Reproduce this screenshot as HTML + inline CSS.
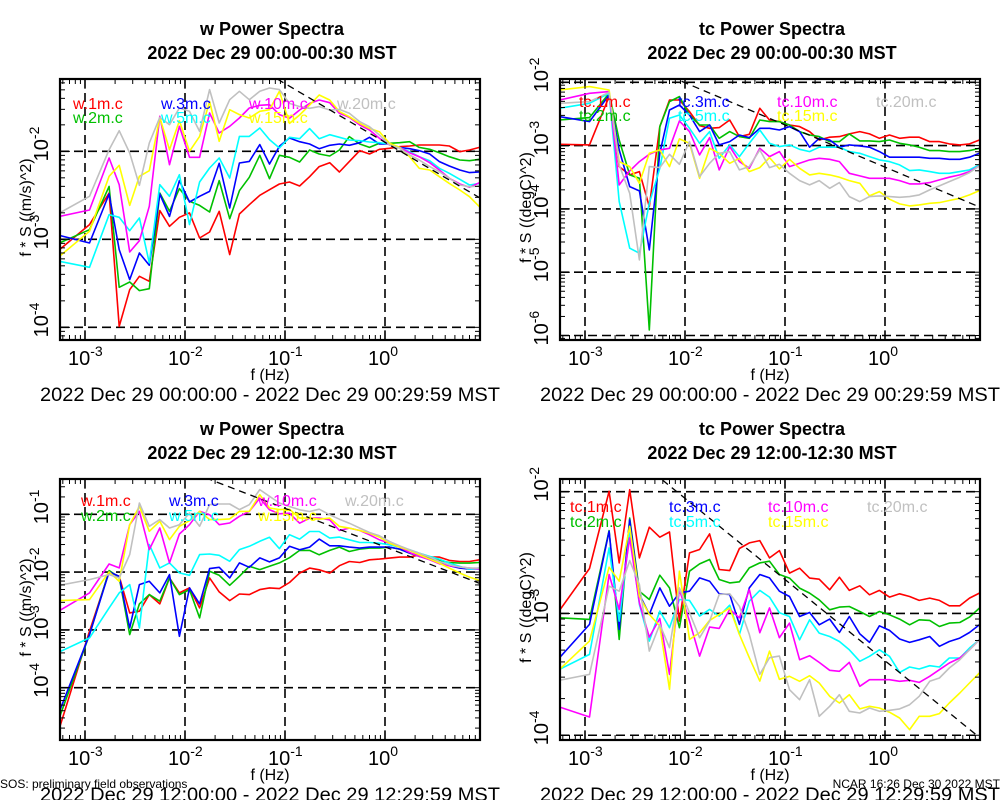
<!DOCTYPE html>
<html><head><meta charset="utf-8"><style>
html,body{margin:0;padding:0;background:#fff;}
svg{display:block;font-family:"Liberation Sans",sans-serif;}
</style></head><body>
<svg id="chart" width="1000" height="800" viewBox="0 0 1000 800" xmlns="http://www.w3.org/2000/svg"></svg>
<script>
// frequencies (Hz)
const freqs = [0.000556,0.00111,0.00174,0.0022,0.0028,0.0035,0.0044,0.0056,0.0070,0.0088,0.0111,0.014,0.0176,0.022,0.028,0.035,0.044,0.056,0.070,0.088,0.111,0.14,0.176,0.22,0.28,0.35,0.44,0.56,0.70,0.88,1.11,1.4,1.76,2.2,2.8,3.5,4.4,5.6,7.0,8.8];
const seriesNames = ["1m","2m","3m","5m","10m","15m","20m"];
const seriesColors = ["#ff0000","#00c000","#0000ff","#00ffff","#ff00ff","#ffff00","#c0c0c0"];
// log10(f*S) values
const w1_1 = [-3.117,-2.833,-2.473,-3.989,-3.572,-3.420,-3.477,-2.674,-2.852,-2.75,-2.70,-2.985,-2.917,-2.682,-3.174,-2.712,-2.606,-2.5,-2.436,-2.371,-2.348,-2.394,-2.288,-2.174,-2.129,-2.235,-2.117,-1.992,-2.03,-1.977,-1.966,-1.947,-1.939,-1.928,-1.928,-1.928,-1.939,-2.004,-1.985,-1.955];
const w1_2 = [-3.042,-2.89,-2.398,-3.545,-3.485,-3.583,-3.561,-2.473,-2.682,-2.424,-2.568,-2.614,-2.689,-2.333,-2.765,-2.447,-2.295,-2.045,-2.311,-2.045,-2.068,-2.121,-1.985,-2.03,-2.053,-1.985,-1.833,-1.917,-1.955,-1.909,-1.909,-1.902,-1.89,-1.955,-1.977,-2.015,-2.061,-2.098,-2.106,-2.091];
const w1_3 = [-2.955,-3.042,-2.485,-3.117,-3.458,-3.155,-3.295,-2.485,-2.739,-2.333,-2.576,-2.511,-2.455,-2.136,-2.644,-2.133,-2.114,-1.924,-2.144,-1.943,-1.848,-1.89,-1.917,-1.97,-1.932,-1.917,-1.932,-1.902,-1.841,-1.917,-1.917,-1.955,-1.97,-1.992,-2.03,-2.117,-2.167,-2.212,-2.242,-2.235];
const w1_5 = [-3.25,-3.318,-2.72,-2.75,-2.902,-2.758,-3.269,-2.379,-2.511,-2.265,-2.833,-2.348,-2.189,-2.076,-2.303,-1.83,-1.83,-1.735,-1.867,-1.962,-1.841,-1.856,-1.742,-1.856,-1.811,-1.841,-1.871,-1.879,-1.894,-1.902,-1.917,-1.955,-2.004,-2.061,-2.106,-2.193,-2.25,-2.318,-2.383,-2.364];
const w1_10 = [-2.739,-2.667,-2.076,-2.379,-3.144,-3.015,-2.625,-1.602,-2.152,-1.716,-2.068,-2.068,-1.564,-1.792,-1.716,-1.621,-1.508,-1.477,-1.47,-1.583,-1.625,-1.53,-1.455,-1.417,-1.447,-1.568,-1.614,-1.701,-1.758,-1.852,-1.928,-1.955,-2.015,-2.061,-2.129,-2.212,-2.307,-2.371,-2.409,-2.356];
const w1_15 = [-3.193,-2.909,-2.284,-2.159,-2.614,-2.284,-2.22,-1.614,-1.981,-1.652,-2.0,-1.83,-1.432,-1.886,-1.527,-1.583,-1.621,-1.545,-1.527,-1.318,-1.682,-1.587,-1.473,-1.36,-1.417,-1.549,-1.606,-1.682,-1.739,-1.777,-1.909,-1.955,-2.061,-2.193,-2.212,-2.288,-2.364,-2.439,-2.515,-2.629];
const w1_20 = [-2.701,-2.511,-1.981,-1.765,-2.019,-2.386,-1.905,-1.614,-1.697,-1.508,-1.545,-1.773,-1.299,-1.678,-1.413,-1.318,-1.413,-1.318,-1.28,-1.299,-1.455,-1.492,-1.511,-1.492,-1.53,-1.523,-1.568,-1.663,-1.72,-1.814,-1.928,-1.966,-2.042,-2.098,-2.174,-2.231,-2.307,-2.383,-2.402,-2.394];

const t1_1 = [-2.979,-2.989,-2.226,-3.332,-3.463,-3.411,-3.963,-2.7,-2.279,-2.279,-2.463,-2.684,-2.726,-2.716,-2.595,-2.858,-2.821,-2.411,-2.595,-2.621,-2.674,-2.7,-2.779,-2.911,-2.868,-2.858,-2.816,-2.779,-2.816,-2.884,-2.832,-2.884,-2.868,-2.868,-2.937,-2.937,-2.974,-2.989,-2.974,-2.911];
const t1_2 = [-2.595,-2.558,-2.174,-2.911,-3.463,-3.516,-5.911,-2.7,-2.305,-2.226,-2.516,-2.674,-2.674,-2.884,-2.779,-2.858,-2.884,-2.595,-2.621,-2.621,-2.674,-2.779,-2.832,-2.858,-2.937,-2.937,-2.816,-2.926,-2.926,-2.937,-2.911,-2.963,-2.989,-3.026,-3.079,-3.079,-3.095,-3.095,-3.079,-3.042];
const t1_3 = [-2.542,-2.621,-2.2,-3.068,-3.647,-3.716,-4.647,-3.121,-2.437,-2.358,-2.516,-2.779,-2.674,-2.989,-2.937,-2.832,-2.874,-2.726,-2.726,-2.753,-2.7,-2.779,-3.026,-2.884,-2.911,-3.026,-2.989,-3.005,-3.026,-3.095,-3.184,-3.184,-3.184,-3.184,-3.2,-3.2,-3.216,-3.216,-3.184,-3.121];
const t1_5 = [-2.411,-2.332,-2.174,-3.884,-4.621,-4.7,-3.911,-3.358,-2.568,-2.516,-2.726,-2.963,-2.779,-3.2,-2.989,-3.174,-2.963,-2.753,-2.963,-3.016,-2.989,-3.058,-3.095,-3.026,-3.026,-3.026,-3.095,-3.121,-3.174,-3.226,-3.253,-3.305,-3.395,-3.384,-3.411,-3.437,-3.437,-3.411,-3.384,-3.305];
const t1_10 = [-2.279,-2.174,-2.147,-3.621,-3.4,-3.253,-3.137,-3.068,-3.042,-2.611,-2.779,-3.147,-2.874,-3.384,-3.016,-3.253,-3.358,-3.042,-3.174,-3.095,-3.332,-3.279,-3.226,-3.2,-3.216,-3.253,-3.437,-3.479,-3.516,-3.516,-3.516,-3.553,-3.605,-3.605,-3.584,-3.542,-3.5,-3.463,-3.411,-3.321];
const t1_15 = [-2.121,-2.068,-2.121,-3.253,-3.332,-3.595,-3.121,-3.068,-3.332,-2.895,-2.963,-3.516,-3.042,-3.121,-3.279,-3.2,-3.411,-3.347,-3.189,-3.368,-3.216,-3.358,-3.463,-3.437,-3.463,-3.5,-3.553,-3.595,-3.795,-3.726,-3.847,-3.921,-3.953,-3.937,-3.911,-3.9,-3.868,-3.832,-3.779,-3.711];
const t1_20 = [-2.332,-2.305,-2.158,-3.305,-3.753,-4.805,-3.332,-3.347,-3.137,-3.295,-2.937,-3.489,-3.279,-3.121,-3.095,-3.384,-3.332,-3.068,-3.347,-3.295,-3.437,-3.553,-3.621,-3.553,-3.674,-3.584,-3.805,-3.884,-3.805,-3.795,-3.805,-3.816,-3.805,-3.779,-3.7,-3.637,-3.568,-3.5,-3.426,-3.321];

const w2_1 = [-4.695,-3.023,-1.997,-2.072,-2.706,-2.677,-2.389,-2.55,-2.101,-2.36,-2.274,-2.62,-2.101,-2.343,-2.493,-2.378,-2.389,-2.303,-2.274,-2.285,-2.18,-2.017,-1.931,-1.96,-2.017,-1.89,-1.816,-1.833,-1.787,-1.775,-1.758,-1.741,-1.741,-1.7,-1.741,-1.741,-1.798,-1.816,-1.816,-1.787];
const w2_2 = [-4.51,-3.081,-1.974,-2.089,-3.081,-2.55,-2.389,-2.504,-2.101,-2.389,-2.303,-2.793,-1.986,-2.055,-2.228,-2.072,-1.899,-1.957,-1.899,-1.841,-1.75,-1.625,-1.625,-1.7,-1.625,-1.568,-1.643,-1.602,-1.585,-1.585,-1.568,-1.602,-1.671,-1.729,-1.758,-1.798,-1.833,-1.844,-1.844,-1.833];
const w2_3 = [-4.406,-3.081,-1.997,-2.072,-2.965,-2.216,-2.159,-2.36,-2.043,-3.11,-2.274,-2.55,-1.939,-1.916,-2.101,-1.841,-1.916,-1.755,-1.824,-1.755,-1.553,-1.614,-1.568,-1.429,-1.545,-1.545,-1.568,-1.585,-1.568,-1.568,-1.568,-1.602,-1.671,-1.718,-1.758,-1.816,-1.89,-1.931,-1.948,-1.931];
const w2_5 = [-3.38,-3.138,-2.62,-2.36,-2.216,-2.965,-1.524,-1.928,-1.841,-2.014,-2.055,-1.697,-1.686,-1.709,-1.813,-1.611,-1.553,-1.467,-1.398,-1.594,-1.352,-1.429,-1.297,-1.297,-1.412,-1.395,-1.441,-1.487,-1.487,-1.499,-1.527,-1.568,-1.614,-1.671,-1.729,-1.775,-1.844,-1.902,-1.948,-1.948];
const w2_10 = [-2.666,-2.36,-1.859,-1.928,-1.179,-0.948,-1.611,-1.236,-1.841,-1.34,-1.179,-0.948,-1.006,-1.179,-1.15,-1.035,-0.95,-0.72,-0.922,-0.991,-0.98,-1.153,-1.066,-1.066,-1.095,-1.28,-1.239,-1.28,-1.354,-1.441,-1.499,-1.568,-1.66,-1.729,-1.787,-1.856,-1.89,-1.914,-1.931,-1.948];
const w2_15 = [-2.493,-2.476,-1.997,-2.159,-1.179,-0.862,-1.294,-1.121,-1.438,-1.207,-1.11,-0.948,-1.092,-1.092,-1.08,-0.95,-0.95,-0.66,-0.89,-0.919,-0.911,-1.066,-1.066,-1.084,-1.066,-1.21,-1.239,-1.28,-1.326,-1.395,-1.499,-1.568,-1.625,-1.7,-1.775,-1.844,-1.931,-2.017,-2.086,-2.144];
const w2_20 = [-2.228,-2.13,-2.043,-2.101,-1.697,-0.804,-1.207,-1.092,-1.236,-1.179,-0.977,-1.207,-0.833,-0.821,-0.821,-0.919,-0.833,-0.573,-0.689,-0.804,-0.865,-0.922,-0.951,-0.911,-1.009,-1.084,-1.153,-1.239,-1.314,-1.372,-1.47,-1.545,-1.614,-1.671,-1.741,-1.816,-1.873,-1.914,-1.931,-1.931];

const t2_1 = [-2.975,-2.631,-1.997,-2.585,-1.984,-2.544,-2.292,-2.374,-2.331,-3.063,-2.503,-2.475,-2.347,-2.639,-2.648,-2.467,-2.421,-2.402,-2.544,-2.484,-2.669,-2.628,-2.71,-2.719,-2.806,-2.702,-2.811,-2.773,-2.847,-2.811,-2.866,-2.839,-2.861,-2.893,-2.874,-2.893,-2.937,-2.937,-2.874,-2.833];
const t2_2 = [-3.036,-3.049,-2.32,-3.213,-2.216,-2.817,-2.885,-2.686,-2.79,-3.117,-2.653,-2.593,-2.557,-2.721,-2.749,-2.74,-2.626,-2.585,-2.571,-2.68,-2.71,-2.792,-2.833,-2.888,-2.97,-2.948,-2.943,-2.984,-3.025,-2.984,-3.011,-3.046,-3.093,-3.052,-3.057,-3.107,-3.079,-3.074,-3.03,-2.956];
const t2_3 = [-3.363,-3.09,-2.325,-3.131,-2.23,-2.844,-3.008,-2.79,-2.94,-2.831,-2.817,-2.708,-2.735,-2.839,-2.844,-3.09,-2.79,-2.68,-2.708,-2.817,-2.861,-3.025,-2.992,-3.093,-3.046,-3.156,-3.025,-3.167,-3.238,-3.101,-3.139,-3.21,-3.238,-3.216,-3.189,-3.27,-3.23,-3.202,-3.156,-3.093];
const t2_5 = [-3.459,-3.336,-2.462,-3.063,-2.339,-2.926,-3.227,-2.981,-3.117,-2.885,-2.893,-3.022,-2.967,-3.022,-2.932,-3.172,-2.899,-2.811,-2.866,-2.995,-3.025,-3.216,-3.052,-3.161,-3.189,-3.23,-3.298,-3.393,-3.352,-3.298,-3.352,-3.484,-3.44,-3.456,-3.429,-3.44,-3.366,-3.366,-3.284,-3.216];
const t2_10 = [-3.768,-3.85,-2.68,-2.967,-2.38,-2.913,-3.194,-3.041,-3.5,-2.803,-3.063,-3.35,-3.112,-3.123,-2.967,-3.036,-2.803,-3.158,-2.954,-3.199,-3.079,-3.38,-3.347,-3.402,-3.467,-3.475,-3.402,-3.598,-3.544,-3.544,-3.544,-3.557,-3.549,-3.566,-3.516,-3.462,-3.407,-3.366,-3.298,-3.216];
const t2_15 = [-3.459,-3.227,-2.62,-2.735,-2.284,-2.858,-3.008,-3.104,-3.623,-2.653,-3.213,-3.158,-3.057,-3.008,-2.954,-3.172,-3.363,-3.555,-3.309,-3.541,-3.516,-3.557,-3.511,-3.571,-3.68,-3.735,-3.667,-3.784,-3.762,-3.776,-3.811,-3.858,-3.954,-3.844,-3.844,-3.822,-3.735,-3.653,-3.571,-3.489];
const t2_20 = [-3.549,-3.5,-2.776,-2.817,-2.566,-2.762,-3.309,-3.09,-3.281,-2.79,-2.995,-3.199,-3.063,-2.844,-2.839,-2.94,-3.172,-3.5,-3.363,-3.35,-3.626,-3.708,-3.544,-3.844,-3.762,-3.667,-3.803,-3.817,-3.776,-3.803,-3.795,-3.784,-3.749,-3.68,-3.557,-3.53,-3.448,-3.38,-3.298,-3.216];

// -2/3 reference line intercepts (log10 value at f=1)
const refIntercepts = [-1.897, -3.34, -1.564, -3.388];

const panels = [
  {id:"w-top", var:"w", x0:60, x1:480, y0:79, y1:340, lmin:-3.25, lmax:0.95, ymin:-4.144, ymax:-1.178, yt:[-2,-3,-4],
   title1:"w Power Spectra", title2:"2022 Dec 29 00:00-00:30 MST", ylab:"f * S ((m/s)^2)", range:"2022 Dec 29 00:00:00 - 2022 Dec 29 00:29:59 MST",
   data:[w1_1,w1_2,w1_3,w1_5,w1_10,w1_15,w1_20], lx:[73,161,249,337], ly:[109,123]},
  {id:"tc-top", var:"tc", x0:560, x1:980, y0:79, y1:340, lmin:-3.25, lmax:0.95, ymin:-6.071, ymax:-1.948, yt:[-2,-3,-4,-5,-6],
   title1:"tc Power Spectra", title2:"2022 Dec 29 00:00-00:30 MST", ylab:"f * S ((degC)^2)", range:"2022 Dec 29 00:00:00 - 2022 Dec 29 00:29:59 MST",
   data:[t1_1,t1_2,t1_3,t1_5,t1_10,t1_15,t1_20], lx:[579,678,777,876], ly:[107,121]},
  {id:"w-bottom", var:"w", x0:60, x1:480, y0:479, y1:740, lmin:-3.25, lmax:0.95, ymin:-4.905, ymax:-0.389, yt:[-1,-2,-3,-4],
   title1:"w Power Spectra", title2:"2022 Dec 29 12:00-12:30 MST", ylab:"f * S ((m/s)^2)", range:"2022 Dec 29 12:00:00 - 2022 Dec 29 12:29:59 MST",
   data:[w2_1,w2_2,w2_3,w2_5,w2_10,w2_15,w2_20], lx:[81,169,258,345], ly:[506,521]},
  {id:"tc-bottom", var:"tc", x0:560, x1:980, y0:479, y1:740, lmin:-3.25, lmax:0.95, ymin:-4.039, ymax:-1.896, yt:[-2,-3,-4],
   title1:"tc Power Spectra", title2:"2022 Dec 29 12:00-12:30 MST", ylab:"f * S ((degC)^2)", range:"2022 Dec 29 12:00:00 - 2022 Dec 29 12:29:59 MST",
   data:[t2_1,t2_2,t2_3,t2_5,t2_10,t2_15,t2_20], lx:[570,669,768,867], ly:[512,527]}
];

const NS = "http://www.w3.org/2000/svg";
const svg = document.getElementById("chart");
function mk(tag, attrs, parent, text){
  const e = document.createElementNS(NS, tag);
  for (const k in attrs) e.setAttribute(k, attrs[k]);
  if (text !== undefined) e.textContent = text;
  (parent||svg).appendChild(e);
  return e;
}

panels.forEach((p, pi) => {
  const g = mk("g", {});
  
  
  const cx = (p.x0 + p.x1) / 2;
  const xs = lf => p.x0 + (lf - p.lmin) / (p.lmax - p.lmin) * (p.x1 - p.x0);
  const ys = lv => p.y1 - (lv - p.ymin) / (p.ymax - p.ymin) * (p.y1 - p.y0);

  // titles
  const t1 = mk("text", {x:cx+2, y:p.y0-44, "text-anchor":"middle", "font-size":18, "font-weight":"bold"}, g, p.title1);
  
  
  const t2 = mk("text", {x:cx+2, y:p.y0-20, "text-anchor":"middle", "font-size":18, "font-weight":"bold"}, g, p.title2);
  
  

  // clip
  const cid = "clip" + pi;
  const cp = mk("clipPath", {id:cid}, g);
  mk("rect", {x:p.x0, y:p.y0, width:p.x1-p.x0, height:p.y1-p.y0}, cp);

  // grid
  const grid = mk("g", {stroke:"#000", "stroke-width":1.6, "stroke-dasharray":"9,5", fill:"none"}, g);
  
  
  [-3,-2,-1,0].forEach(d => { const x = xs(d); mk("line", {x1:x, x2:x, y1:p.y0, y2:p.y1}, grid); });
  p.yt.forEach(d => { const y = ys(d); mk("line", {x1:p.x0, x2:p.x1, y1:y, y2:y}, grid); });

  // series
  const sg = mk("g", {"clip-path":"url(#"+cid+")", fill:"none", "stroke-width":1.6, "stroke-linejoin":"round"}, g);
  p.data.forEach((arr, si) => {
    const pts = arr.map((v, i) => xs(Math.log10(freqs[i])).toFixed(1) + "," + ys(v).toFixed(1)).join(" ");
    const pl = mk("polyline", {points:pts, stroke:seriesColors[si]}, sg);
    
    
  });
  // reference -2/3 line
  const a = refIntercepts[pi];
  const ref = mk("line", {x1:xs(p.lmin), y1:ys(a - 2/3*p.lmin), x2:xs(p.lmax), y2:ys(a - 2/3*p.lmax), stroke:"#000", "stroke-width":1.3, "stroke-dasharray":"7,5"}, sg);
  
  

  // ticks
  const tk = mk("g", {stroke:"#000", "stroke-width":1}, g);
  
  
  for (let d = -4; d <= 1; d++) {
    for (let m = 1; m <= 9; m++) {
      const lf = d + Math.log10(m);
      if (lf < p.lmin || lf > p.lmax) continue;
      const x = xs(lf), L = m === 1 ? 10 : 5;
      mk("line", {x1:x, x2:x, y1:p.y1, y2:p.y1-L}, tk);
      mk("line", {x1:x, x2:x, y1:p.y0, y2:p.y0+L}, tk);
    }
  }
  for (let d = -7; d <= 0; d++) {
    for (let m = 1; m <= 9; m++) {
      const lv = d + Math.log10(m);
      if (lv < p.ymin || lv > p.ymax) continue;
      const y = ys(lv), L = m === 1 ? 10 : 5;
      mk("line", {x1:p.x0, x2:p.x0+L, y1:y, y2:y}, tk);
      mk("line", {x1:p.x1, x2:p.x1-L, y1:y, y2:y}, tk);
    }
  }
  // frame
  const fr = mk("rect", {x:p.x0, y:p.y0, width:p.x1-p.x0, height:p.y1-p.y0, fill:"none", stroke:"#000", "stroke-width":2.2}, g);
  
  

  // x tick labels
  [-3,-2,-1,0].forEach(d => {
    const x = xs(d);
    const t = mk("text", {x:x-17, y:p.y1+25, "font-size":20}, g);
    
    
    t.appendChild(document.createTextNode("10"));
    mk("tspan", {dy:-9, "font-size":14}, t, String(d));
  });
  const xl = mk("text", {x:cx, y:p.y1+40, "text-anchor":"middle", "font-size":16}, g, "f (Hz)");
  
  
  const rg = mk("text", {x:cx, y:p.y1+61, "text-anchor":"middle", "font-size":19, textLength:460, lengthAdjust:"spacingAndGlyphs"}, g, p.range);
  
  

  // y tick labels
  p.yt.forEach(d => {
    const y = ys(d);
    const t = mk("text", {transform:"translate("+(p.x0-12)+","+(y+10)+") rotate(-90)", "font-size":20}, g);
    
    
    t.appendChild(document.createTextNode("10"));
    mk("tspan", {dy:-9, "font-size":14}, t, String(d));
  });
  const yl = mk("text", {transform:"translate("+(p.x0-29)+","+((p.y0+p.y1)/2-2)+") rotate(-90)", "text-anchor":"middle", "font-size":16}, g, p.ylab);
  
  

  // legend
  seriesNames.forEach((n, si) => {
    const col = Math.floor(si / 2), row = si % 2;
    const t = mk("text", {x:p.lx[col], y:p.ly[row], "font-size":16, fill:seriesColors[si]}, g, p.var + "." + n + ".c");
    
    
  });
});

const f1 = mk("text", {x:0, y:788, "font-size":12}, svg, "SOS: preliminary field observations");


const f2 = mk("text", {x:1000, y:788, "font-size":12, "text-anchor":"end"}, svg, "NCAR 16:26 Dec 30 2022 MST");


</script>
</body></html>
